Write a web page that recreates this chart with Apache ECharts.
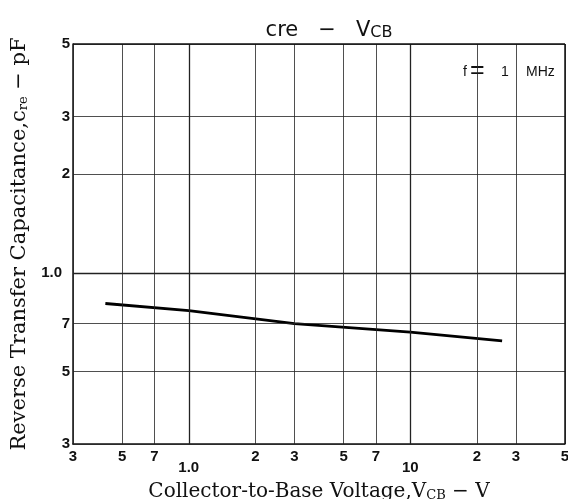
<!DOCTYPE html>
<html>
<head>
<meta charset="utf-8">
<script src="https://cdn.jsdelivr.net/npm/echarts@6/dist/echarts.min.js"></script>
<style>html,body{margin:0;padding:0;background:#fff}#c{width:568px;height:499px}</style>
</head>
<body>
<div id="c"></div>
<script>
var xTicks = [0.3, 0.5, 0.7, 1, 2, 3, 5, 7, 10, 20, 30, 50];
var xTickLabels = ['3', '5', '7', '1.0', '2', '3', '5', '7', '10', '2', '3', '5'];
var yTicks = [0.3, 0.5, 0.7, 1, 2, 3, 5];
var yTickLabels = ['3', '5', '7', '1.0', '2', '3', '5'];
var vcb = [0.42, 1, 3, 10, 26];
var cre = [0.806, 0.766, 0.70, 0.659, 0.62];

var tickFont = {fontFamily: 'Liberation Sans, Arial, sans-serif', fontWeight: 'bold', fontSize: 15, color: '#111'};

var xLines = xTicks.map(function (v, i) {
  var decade = (v === 1 || v === 10);
  return {
    xAxis: v,
    lineStyle: {color: '#222', width: decade ? 1.3 : 0.8, type: 'solid'},
    label: Object.assign({show: true, position: 'start', formatter: xTickLabels[i],
      distance: decade ? 16 : 5}, tickFont)
  };
});
var yLines = yTicks.map(function (v, i) {
  var decade = (v === 1);
  return {
    yAxis: v,
    lineStyle: {color: '#222', width: decade ? 1.3 : 0.8, type: 'solid'},
    label: Object.assign({show: true, position: 'start', formatter: yTickLabels[i],
      distance: decade ? 11 : 3, padding: (v === 0.3 ? [0, 0, 6, 0] : 0)}, tickFont)
  };
});

var chart = echarts.init(document.getElementById('c'), null, {renderer: 'canvas'});
chart.setOption({
  animation: false,
  backgroundColor: '#fff',
  title: {
    text: 'cre   \u2212   V{s|CB}',
    left: 324, top: 15, textAlign: 'center',
    textStyle: {
      fontFamily: 'DejaVu Sans, sans-serif', fontSize: 21, fontWeight: 'normal', color: '#111',
      rich: {s: {fontFamily: 'DejaVu Sans, sans-serif', fontSize: 16, color: '#111', padding: [5, 0, 0, 0]}}
    }
  },
  grid: {left: 73, right: 3, top: 44, bottom: 55, show: false, outerBoundsMode: 'none', containLabel: false},
  xAxis: {
    type: 'log', logBase: 10, min: 0.3, max: 50,
    axisLine: {show: true, onZero: false, lineStyle: {color: '#111', width: 1.5}},
    axisTick: {show: false}, axisLabel: {show: false}, splitLine: {show: false},
    name: 'Collector-to-Base Voltage,V{s|CB} \u2212 V',
    nameLocation: 'middle', nameGap: 37,
    nameTextStyle: {fontFamily: 'DejaVu Serif, serif', fontSize: 20, color: '#111',
      rich: {s: {fontFamily: 'DejaVu Serif, serif', fontSize: 13, color: '#111', padding: [8, 0, 0, 0]}}}
  },
  yAxis: {
    type: 'log', logBase: 10, min: 0.3, max: 5,
    axisLine: {show: true, onZero: false, lineStyle: {color: '#111', width: 1.5}},
    axisTick: {show: false}, axisLabel: {show: false}, splitLine: {show: false},
    name: 'Reverse Transfer Capacitance,c{s|re} \u2212 pF',
    nameLocation: 'middle', nameGap: 43,
    nameTextStyle: {fontFamily: 'DejaVu Serif, serif', fontSize: 21, color: '#111',
      rich: {s: {fontFamily: 'DejaVu Serif, serif', fontSize: 13, color: '#111', padding: [8, 0, 0, 0]}}}
  },
  graphic: [
    {type: 'text', left: 463, top: 65, style: {text: 'f', fontFamily: 'Liberation Sans, Arial, sans-serif', fontSize: 14, fill: '#111'}},
    {type: 'text', left: 470, top: 59, style: {text: '=', fontFamily: 'Liberation Sans, Arial, sans-serif', fontSize: 25, fill: '#111'}},
    {type: 'text', left: 501, top: 65, style: {text: '1', fontFamily: 'Liberation Sans, Arial, sans-serif', fontSize: 14, fill: '#111'}},
    {type: 'text', left: 526, top: 65, style: {text: 'MHz', fontFamily: 'Liberation Sans, Arial, sans-serif', fontSize: 14, fill: '#111'}}
  ],
  series: [
    {
      type: 'line', data: [], silent: true,
      markLine: {silent: true, symbol: 'none', animation: false, data: xLines.concat(yLines)}
    },
    {
      type: 'line', data: [], silent: true,
      markLine: {silent: true, symbol: 'none', animation: false, label: {show: false},
        data: [
          [{coord: [0.3, 5]}, {coord: [50, 5]}],
          [{coord: [50, 0.3]}, {coord: [50, 5]}]
        ],
        lineStyle: {color: '#111', width: 1.5, type: 'solid'}}
    },
    {
      type: 'line', showSymbol: false, smooth: false,
      lineStyle: {color: '#000', width: 2.8},
      data: vcb.map(function (v, i) { return [v, cre[i]]; })
    }
  ]
});
</script>
</body>
</html>
